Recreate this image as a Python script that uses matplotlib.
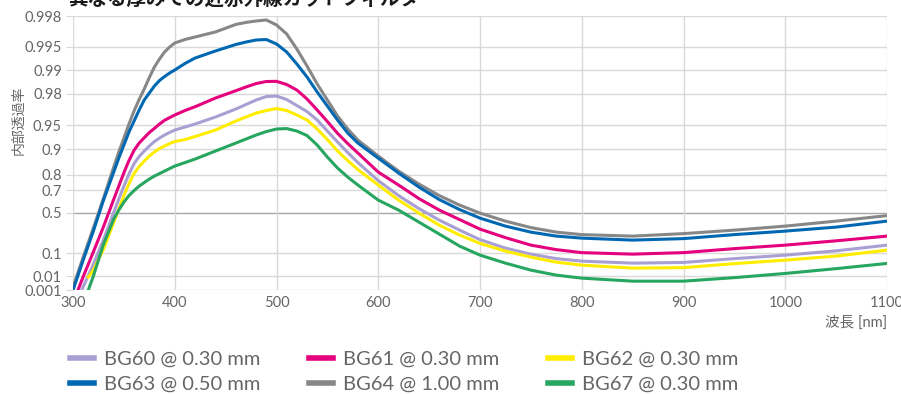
import numpy as np
import matplotlib.pyplot as plt
from matplotlib.lines import Line2D

plt.rcParams['font.family'] = ['Lato', 'Noto Sans CJK JP', 'DejaVu Sans']

# wavelength [nm]
wl = [300, 310, 315, 320, 330, 340, 345, 350, 355, 360, 365, 370, 375, 380, 385, 390,
      395, 400, 410, 420, 440, 460, 470, 480, 490, 500, 510, 520, 530, 540, 550, 560,
      570, 580, 600, 620, 640, 660, 680, 700, 725, 750, 775, 800, 850, 900, 950, 1000,
      1050, 1100]

nan = np.nan
# internal transmittance
bg60 = [0.000005, 0.00185, 0.01117, 0.0406, 0.2134, 0.5027, 0.6292, 0.7300, 0.8024, 0.8508,
        0.8775, 0.8950, 0.9088, 0.9197, 0.9274, 0.9334, 0.9383, 0.9423, 0.9471, 0.9515,
        0.96045, 0.96867, 0.97255, 0.97596, 0.97830, 0.97862, 0.97630, 0.97172, 0.96630, 0.95684,
        0.9406, 0.9186, 0.8905, 0.8552, 0.7656, 0.6589, 0.5413, 0.4211, 0.3119, 0.2134,
        0.1368, 0.0927, 0.0660, 0.0535, 0.0447, 0.0476, 0.0660, 0.0863, 0.1158, 0.1621]
bg61 = [0.00004, 0.00948, 0.0399, 0.1078, 0.3500, 0.6267, 0.7300, 0.8091, 0.8630, 0.8971,
        0.9162, 0.9280, 0.9380, 0.9450, 0.9515, 0.9565, 0.9598, 0.9627, 0.96727, 0.97072,
        0.97731, 0.98171, 0.98360, 0.98520, 0.98606, 0.98613, 0.98476, 0.98208, 0.97664, 0.96774,
        0.9549, 0.9366, 0.9150, 0.8889, 0.8127, 0.7371, 0.6335, 0.5260, 0.4266, 0.3229,
        0.2332, 0.1621, 0.1249, 0.1029, 0.0927, 0.1029, 0.1328, 0.1621, 0.2017, 0.2486]
bg62 = [nan, nan, 0.00897, 0.0218, 0.1288, 0.3960, 0.5362, 0.6589, 0.7466, 0.8052,
        0.8385, 0.8611, 0.8791, 0.8920, 0.9021, 0.9088, 0.9150, 0.9197, 0.9242, 0.9304,
        0.9423, 0.9555, 0.96045, 0.96478, 0.96727, 0.96912, 0.96727, 0.9627, 0.95684, 0.94399,
        0.9242, 0.8950, 0.8630, 0.8249, 0.7371, 0.6207, 0.4955, 0.3665, 0.2590, 0.1774,
        0.1136, 0.0743, 0.0489, 0.0369, 0.0272, 0.0286, 0.0427, 0.0583, 0.0802, 0.1211]
bg63 = [0.00097, 0.0583, 0.1577, 0.3013, 0.6207, 0.8127, 0.8720, 0.9113, 0.9389, 0.9555,
        0.96774, 0.97596, 0.98042, 0.98407, 0.98646, 0.98797, 0.98916, 0.99008, 0.99181, 0.99304,
        0.99435, 0.99534, 0.99567, 0.99592, 0.99598, 0.99541, 0.99418, 0.99169, 0.98780, 0.98099,
        0.97130, 0.95684, 0.9371, 0.9162, 0.8720, 0.8077, 0.7233, 0.6252, 0.5312, 0.4427,
        0.3557, 0.2905, 0.2486, 0.2282, 0.2085, 0.2233, 0.2642, 0.3013, 0.3447, 0.4102]
bg64 = [0.00175, 0.0743, 0.1848, 0.3338, 0.6380, 0.8364, 0.8920, 0.9274, 0.9515, 0.9668,
        0.97630, 0.98260, 0.98761, 0.99092, 0.99283, 0.99418, 0.99498, 0.99554, 0.99598, 0.99627,
        0.99679, 0.99743, 0.99758, 0.99768, 0.99775, 0.99739, 0.99659, 0.99467, 0.99118, 0.98499,
        0.97596, 0.96158, 0.94399, 0.92305, 0.8791, 0.8175, 0.7436, 0.6589, 0.5747, 0.4955,
        0.4102, 0.3393, 0.2905, 0.2642, 0.2486, 0.2747, 0.3119, 0.3557, 0.4102, 0.4692]
bg67 = [nan, nan, 0.00097, 0.0103, 0.1710, 0.4318, 0.5260, 0.6027, 0.6589, 0.6980,
        0.7300, 0.7534, 0.7747, 0.7917, 0.8052, 0.8175, 0.8297, 0.8407, 0.8552, 0.8686,
        0.8950, 0.9162, 0.9253, 0.9334, 0.9397, 0.94399, 0.9447, 0.9406, 0.9324, 0.9113,
        0.8757, 0.8319, 0.7860, 0.7371, 0.6207, 0.5260, 0.3994, 0.2694, 0.1534, 0.0863,
        0.0447, 0.0218, 0.01178, 0.00778, 0.00494, 0.00494, 0.00836, 0.01466, 0.0257, 0.0435]

labels = ["BG60 @ 0.30 mm", "BG61 @ 0.30 mm", "BG62 @ 0.30 mm",
          "BG63 @ 0.50 mm", "BG64 @ 1.00 mm", "BG67 @ 0.30 mm"]
colors = ["#a99fd3", "#e5007d", "#ffed00", "#0068b3", "#878787", "#26a65e"]
series = [bg60, bg61, bg62, bg63, bg64, bg67]

yticks = [0.001, 0.01, 0.1, 0.5, 0.7, 0.8, 0.9, 0.95, 0.98, 0.99, 0.995, 0.998]
yticklabels = ["0.001", "0.01", "0.1", "0.5", "0.7", "0.8", "0.9", "0.95", "0.98", "0.99", "0.995", "0.998"]
xticks = [300, 400, 500, 600, 700, 800, 900, 1000, 1100]


# internal transmittance scale: -log10(-log10(T))
def fwd(t):
    t = np.clip(np.asarray(t, dtype=float), 1e-300, 1 - 1e-15)
    return -np.log10(-np.log10(t))


def inv(y):
    return 10 ** (-(10 ** (-np.asarray(y, dtype=float))))


fig = plt.figure(figsize=(9.01, 3.94), dpi=100)
ax = fig.add_axes([73/901, 1 - 290/394, (887 - 73)/901, (290 - 16)/394])
ax.set_yscale('function', functions=(fwd, inv))

grid_c = "#d9d9d9"
for t in yticks:
    ax.axhline(t, color="#a6a6a6" if t == 0.5 else grid_c, lw=1.0, zorder=1)
for x in xticks:
    ax.axvline(x, color=grid_c, lw=1.0, zorder=1)

draw_order = [0, 1, 2, 4, 3, 5]
for i in draw_order:
    ax.plot(wl, series[i], color=colors[i], lw=2.2, zorder=3, solid_joinstyle='round')

ax.set_xlim(300, 1100)
ax.set_ylim(0.001, 0.998)
ax.set_yticks(yticks)
ax.set_yticklabels(yticklabels)
ax.yaxis.set_minor_locator(plt.NullLocator())
ax.set_xticks(xticks)
ax.tick_params(axis='y', length=5, color=grid_c, labelsize=10.5, labelcolor="#666666", pad=3)
ax.tick_params(axis='x', length=0, labelsize=10.5, labelcolor="#666666", pad=4)
for s in ax.spines.values():
    s.set_visible(False)

fig.text(887/901, 1 - 323/394, "波長 [nm]", ha='right', va='center', fontsize=10.5,
         color="#666666", family=['Lato', 'Noto Sans CJK JP'])
fig.text(18/901, 1 - 120/394, "内部透過率", rotation=90, ha='center', va='center',
         fontsize=10, color="#666666", family=['Noto Sans CJK JP'])
fig.text(68/901, 1 - 5/394, "異なる厚みでの近赤外線カットフィルター", ha='left', va='baseline',
         fontsize=14, fontweight='bold', color="#1a1a1a", family=['Noto Sans CJK JP'])

handles = [Line2D([], [], color=c, lw=4) for c in colors]
order = [0, 3, 1, 4, 2, 5]
fig.legend([handles[i] for i in order], [labels[i] for i in order], ncol=3,
           loc='upper left', bbox_to_anchor=(70/901, 1 - 351/394), frameon=False,
           fontsize=14.5, labelcolor="#666666", handlelength=1.2, handletextpad=0.5,
           columnspacing=2.4, labelspacing=0.38, borderaxespad=0, borderpad=0)

fig.savefig("out.png", dpi=100)
